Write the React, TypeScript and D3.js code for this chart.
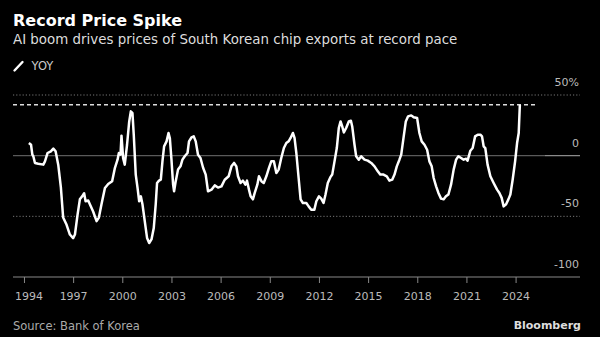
import React from "react";
import * as d3 from "d3";

const years: number[] = [
  1994.27, 1994.40, 1994.48, 1994.54, 1994.64, 1994.84, 1995.15, 1995.25, 1995.41, 1995.61,
  1995.76, 1995.90, 1996.06, 1996.22, 1996.36, 1996.57, 1996.77, 1996.97, 1997.08, 1997.24,
  1997.38, 1997.52, 1997.64, 1997.73, 1997.89, 1997.99, 1998.19, 1998.40, 1998.54, 1998.70,
  1998.91, 1999.11, 1999.35, 1999.52, 1999.68, 1999.76, 1999.86, 1999.92, 2000.02, 2000.12,
  2000.26, 2000.39, 2000.49, 2000.59, 2000.67, 2000.79, 2000.90, 2001.00, 2001.10, 2001.20,
  2001.34, 2001.48, 2001.61, 2001.75, 2001.89, 2002.01, 2002.09, 2002.21, 2002.32, 2002.42,
  2002.52, 2002.67, 2002.79, 2002.87, 2002.97, 2003.07, 2003.13, 2003.23, 2003.37, 2003.52,
  2003.64, 2003.78, 2003.95, 2004.04, 2004.19, 2004.33, 2004.45, 2004.59, 2004.74, 2004.90,
  2005.06, 2005.20, 2005.41, 2005.61, 2005.81, 2006.02, 2006.22, 2006.46, 2006.63, 2006.79,
  2006.93, 2007.03, 2007.19, 2007.33, 2007.48, 2007.58, 2007.70, 2007.80, 2007.94, 2008.05,
  2008.21, 2008.31, 2008.46, 2008.60, 2008.76, 2008.92, 2009.06, 2009.22, 2009.37, 2009.51,
  2009.67, 2009.83, 2009.98, 2010.12, 2010.24, 2010.38, 2010.48, 2010.59, 2010.73, 2010.85,
  2010.99, 2011.20, 2011.34, 2011.50, 2011.69, 2011.81, 2011.97, 2012.11, 2012.25, 2012.37,
  2012.51, 2012.66, 2012.78, 2012.92, 2013.06, 2013.18, 2013.29, 2013.39, 2013.49, 2013.63,
  2013.79, 2013.92, 2014.00, 2014.14, 2014.24, 2014.40, 2014.55, 2014.75, 2014.95, 2015.16,
  2015.36, 2015.56, 2015.71, 2015.91, 2016.11, 2016.27, 2016.44, 2016.58, 2016.72, 2016.88,
  2016.99, 2017.13, 2017.27, 2017.41, 2017.60, 2017.75, 2017.96, 2018.10, 2018.24, 2018.41,
  2018.57, 2018.71, 2018.85, 2018.97, 2019.12, 2019.26, 2019.42, 2019.58, 2019.72, 2019.87,
  2020.03, 2020.19, 2020.34, 2020.48, 2020.64, 2020.80, 2020.95, 2021.04, 2021.21, 2021.35,
  2021.50, 2021.66, 2021.82, 2021.92, 2022.02, 2022.12, 2022.26, 2022.43, 2022.63, 2022.84,
  2022.98, 2023.12, 2023.24, 2023.39, 2023.53, 2023.65, 2023.79, 2023.94, 2024.06, 2024.16,
  2024.23,
];

const yoy: number[] = [
  10.4, 9.0, 0.8, -0.5, -6.0, -6.6, -7.4, -4.7, 2.2, 3.6,
  5.8, 3.6, -7.4, -26.0, -51.0, -57.0, -65.0, -68.0, -65.0, -48.6,
  -36.0, -33.5, -31.0, -37.6, -37.0, -40.0, -46.0, -54.0, -51.0, -40.0,
  -26.6, -23.3, -21.0, -10.0, -3.3, 2.2, 0.8, 16.5, -2.0, -7.4,
  9.0, 28.0, 36.5, 35.0, 17.0, -15.6, -26.6, -37.6, -33.5, -40.0,
  -54.0, -67.8, -72.0, -69.0, -59.6, -40.0, -22.5, -20.6, -19.8, -4.7,
  7.7, 11.8, 18.7, 14.6, -3.3, -23.9, -29.4, -21.0, -11.5, -8.8,
  -3.3, -0.5, 2.2, 11.8, 15.0, 15.9, 11.8, 0.8, -1.9, -10.0,
  -15.6, -29.4, -28.0, -24.5, -26.3, -25.3, -19.8, -17.0, -8.8, -6.0,
  -8.8, -17.0, -22.5, -20.6, -23.9, -20.6, -28.0, -33.5, -36.0, -30.7,
  -23.9, -17.0, -21.0, -22.5, -17.0, -10.0, -4.7, -4.7, -14.3, -11.5,
  -1.9, 6.3, 10.4, 11.8, 14.6, 18.7, 14.6, 2.2, -18.4, -36.0,
  -39.0, -39.0, -41.8, -44.5, -44.5, -37.6, -33.5, -35.4, -39.0, -32.0,
  -22.5, -17.9, -15.6, -4.7, 6.3, 22.8, 28.2, 24.1, 19.2, 22.8,
  28.2, 28.8, 24.1, 9.0, -0.5, -3.3, -0.5, -3.3, -4.1, -6.0,
  -8.8, -12.9, -15.6, -15.6, -17.0, -20.6, -19.8, -15.6, -8.8, -3.3,
  0.8, 14.6, 28.2, 32.4, 33.2, 31.6, 31.0, 18.7, 11.8, 9.0,
  4.9, -4.7, -8.8, -18.4, -25.3, -30.7, -35.4, -36.0, -33.5, -32.0,
  -23.9, -11.5, -3.3, -0.5, -1.9, -3.3, -2.5, -4.1, 4.1, 6.3,
  15.9, 17.3, 17.3, 15.9, 7.7, 6.3, -7.4, -17.0, -22.5, -28.0,
  -30.7, -34.8, -41.8, -40.0, -36.0, -32.0, -19.8, -4.7, 10.4, 18.7,
  42.0,
];

const xTicks: number[] = [1994, 1997, 2000, 2003, 2006, 2009, 2012, 2015, 2018, 2021, 2024];
const yTicks: number[] = [50, 0, -50, -100];
const recordLevel = 42;

const title = "Record Price Spike";
const subtitle = "AI boom drives prices of South Korean chip exports at record pace";
const legendLabel = "YOY";
const source = "Source: Bank of Korea";

const W = 600;
const H = 337;

export default function App() {
  const left = 13;
  const right = 580;
  const x = d3.scaleLinear().domain([1993.3, 2027.9]).range([left, right]);
  const y = d3.scaleLinear().domain([-100, 50]).range([277, 95]);

  const data = years.map((yr, i) => ({ yr, v: yoy[i] }));
  const line = d3
    .line<{ yr: number; v: number }>()
    .x((d) => x(d.yr))
    .y((d) => y(d.v));

  const lastX = x(years[years.length - 1]);
  const font = "DejaVu Sans, sans-serif";

  return (
    <svg
      width={W}
      height={H}
      viewBox={`0 0 ${W} ${H}`}
      style={{ position: "absolute", left: 0, top: 0, background: "#000" }}
    >
      <rect x={0} y={0} width={W} height={H} fill="#000" />
      <text x={13} y={26} fill="#fff" fontFamily={font} fontWeight="bold" fontSize={16}>
        {title}
      </text>
      <text x={13} y={43.5} fill="#ddd" fontFamily={font} fontSize={13.4}>
        {subtitle}
      </text>
      <line x1={14.5} y1={70.5} x2={22.5} y2={62} stroke="#fff" strokeWidth={2.4} strokeLinecap="round" />
      <text x={31.5} y={69.5} fill="#ccc" fontFamily={font} fontSize={11.5}>
        {legendLabel}
      </text>

      {/* gridlines */}
      {yTicks
        .filter((t) => t !== 0 && t !== -100)
        .map((t) => (
          <line
            key={`g${t}`}
            x1={left}
            x2={right}
            y1={y(t)}
            y2={y(t)}
            stroke="#777"
            strokeWidth={1}
            strokeDasharray="1.2,2"
          />
        ))}
      <line x1={left} x2={545} y1={y(0)} y2={y(0)} stroke="#5a5a5a" strokeWidth={1.2} />
      <line x1={545} x2={right} y1={y(0)} y2={y(0)} stroke="#8a8a8a" strokeWidth={1.2} />
      <line x1={left} x2={right} y1={y(-100)} y2={y(-100)} stroke="#888" strokeWidth={1} />

      {/* y labels */}
      {yTicks.map((t) => (
        <text
          key={`yl${t}`}
          x={right - 1}
          y={y(t) - 9}
          fill="#bbb"
          fontFamily={font}
          fontSize={11}
          textAnchor="end"
        >
          {t === 50 ? (
            <>
              {String(t)}
              <tspan>%</tspan>
            </>
          ) : (
            String(t)
          )}
        </text>
      ))}

      {/* x ticks */}
      {xTicks.map((t, i) => (
        <g key={`xt${t}`}>
          <line x1={x(t)} x2={x(t)} y1={277} y2={283} stroke="#888" strokeWidth={1} />
          <text
            x={i === 0 ? left + 2 : x(t)}
            y={299.5}
            fill="#bbb"
            fontFamily={font}
            fontSize={11}
            textAnchor={i === 0 ? "start" : "middle"}
          >
            {String(t)}
          </text>
        </g>
      ))}

      {/* record dashed line */}
      <line
        x1={left}
        x2={lastX + 16}
        y1={y(recordLevel)}
        y2={y(recordLevel)}
        stroke="#ddd"
        strokeWidth={1.5}
        strokeDasharray="4,3"
      />

      <path d={line(data) || ""} fill="none" stroke="#fff" strokeWidth={2.5} strokeLinejoin="round" />

      <text x={13} y={330} fill="#aaa" fontFamily={font} fontSize={11.5}>
        {source}
      </text>
      <text x={581} y={329} fill="#ddd" fontFamily={font} fontWeight="bold" fontSize={11}>
        <tspan textAnchor="end">Bloomberg</tspan>
      </text>
    </svg>
  );
}
